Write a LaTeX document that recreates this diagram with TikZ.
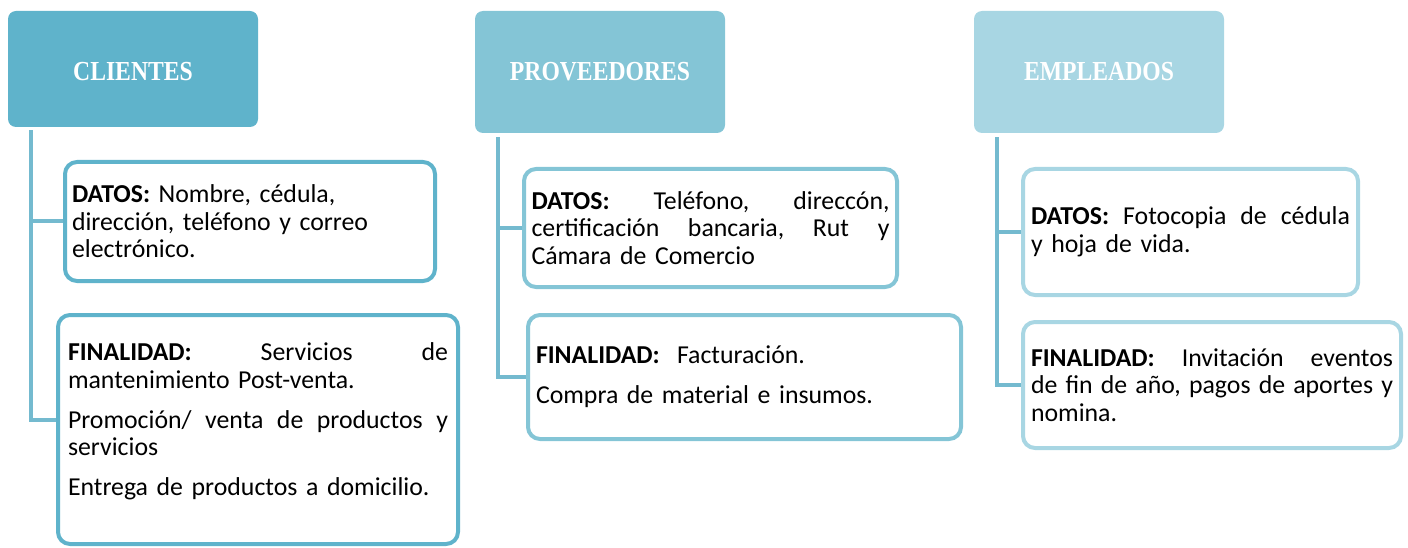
\documentclass[tikz,border=0pt]{standalone}
\usepackage{fontspec}
\setmainfont{Carlito}
\newfontfamily\headfont[FakeStretch=0.86]{Liberation Serif}
\usetikzlibrary{calc}
\definecolor{azulA}{HTML}{5FB3CB}
\definecolor{azulB}{HTML}{84C5D6}
\definecolor{azulC}{HTML}{A8D6E3}
\definecolor{azulR}{HTML}{74BACF}
\setlength{\parindent}{0pt}
\tikzset{
  cabeza/.style={fill=#1, rounded corners=8pt, minimum width=250pt, text=white,
    font=\headfont\fontsize{27.5}{30}\selectfont\bfseries},
  caja/.style={draw=#1, line width=4pt, rounded corners=12pt, fill=white, inner sep=0pt,
    align=left, font=\fontsize{25.8}{27.5}\selectfont},
  rama/.style={draw=azulR, line width=4pt},
}
\newcommand{\gap}{\\[12.5pt]}

\begin{document}
\begin{tikzpicture}[x=1pt,y=-1pt]
        \useasboundingbox (0,0) rectangle (1408,548);
        %headers
        \node[cabeza=azulA, minimum height=116pt] (cli) at (133,69) {CLIENTES\rule{0pt}{24pt}};
        \node[cabeza=azulB, minimum height=122pt] (prov) at (600,72) {PROVEEDORES};
        \node[cabeza=azulC, minimum height=122pt] (emp) at (1099,72) {EMPLEADOS};
        %boxes
        \node[caja=azulA, minimum width=370pt, minimum height=119pt, text width=356pt] (dat1) at (250,221.5)
          {\textbf{DATOS:} Nombre, cédula,\\ dirección, teléfono y correo\\ electrónico.};
        \node[caja=azulA, minimum width=400pt, minimum height=229pt, text width=380pt] (fin1) at (258,429.5)
          {\textbf{FINALIDAD:}\hfill Servicios\hfill de\\ mantenimiento Post-venta.\gap
           Promoción/\hfill venta\hfill de\hfill productos\hfill y\\ servicios\gap
           Entrega de productos a domicilio.\rule[-20pt]{0pt}{0pt}};
        \node[caja=azulB, minimum width=373pt, minimum height=118pt, text width=358pt] (dat2) at (710.5,228)
          {\textbf{DATOS:}\hfill Teléfono,\hfill direccón,\\ certificación\hfill bancaria,\hfill Rut\hfill y\\ Cámara de Comercio};
        \node[caja=azulB, minimum width=433pt, minimum height=124pt, text width=417pt] (fin2) at (744.5,377)
          {\textbf{FINALIDAD:}\ \ Facturación.\gap Compra de material e insumos.};
        \node[caja=azulC, minimum width=335pt, minimum height=126pt, text width=319pt] (dat3) at (1190.5,232)
          {\textbf{DATOS:}\hfill Fotocopia\hfill de\hfill cédula\\ y hoja de vida.};
        \node[caja=azulC, minimum width=378pt, minimum height=126pt, text width=362pt] (fin3) at (1212,385)
          {\textbf{FINALIDAD:}\hfill Invitación\hfill eventos\\ de\hfill fin\hfill de\hfill año,\hfill pagos\hfill de\hfill aportes\hfill y\\ nomina.};
        %connectors
        \draw[rama] ([xshift=23pt,yshift=-3pt]cli.south west) |- (dat1.west);
        \draw[rama] ([xshift=23pt,yshift=-3pt]cli.south west) |- ([yshift=10pt]fin1.west);
        \draw[rama] ([xshift=23pt,yshift=-4pt]prov.south west) |- (dat2.west);
        \draw[rama] ([xshift=23pt,yshift=-4pt]prov.south west) |- (fin2.west);
        \draw[rama] ([xshift=23pt,yshift=-4pt]emp.south west) |- (dat3.west);
        \draw[rama] ([xshift=23pt,yshift=-4pt]emp.south west) |- (fin3.west);
\end{tikzpicture}
\end{document}
